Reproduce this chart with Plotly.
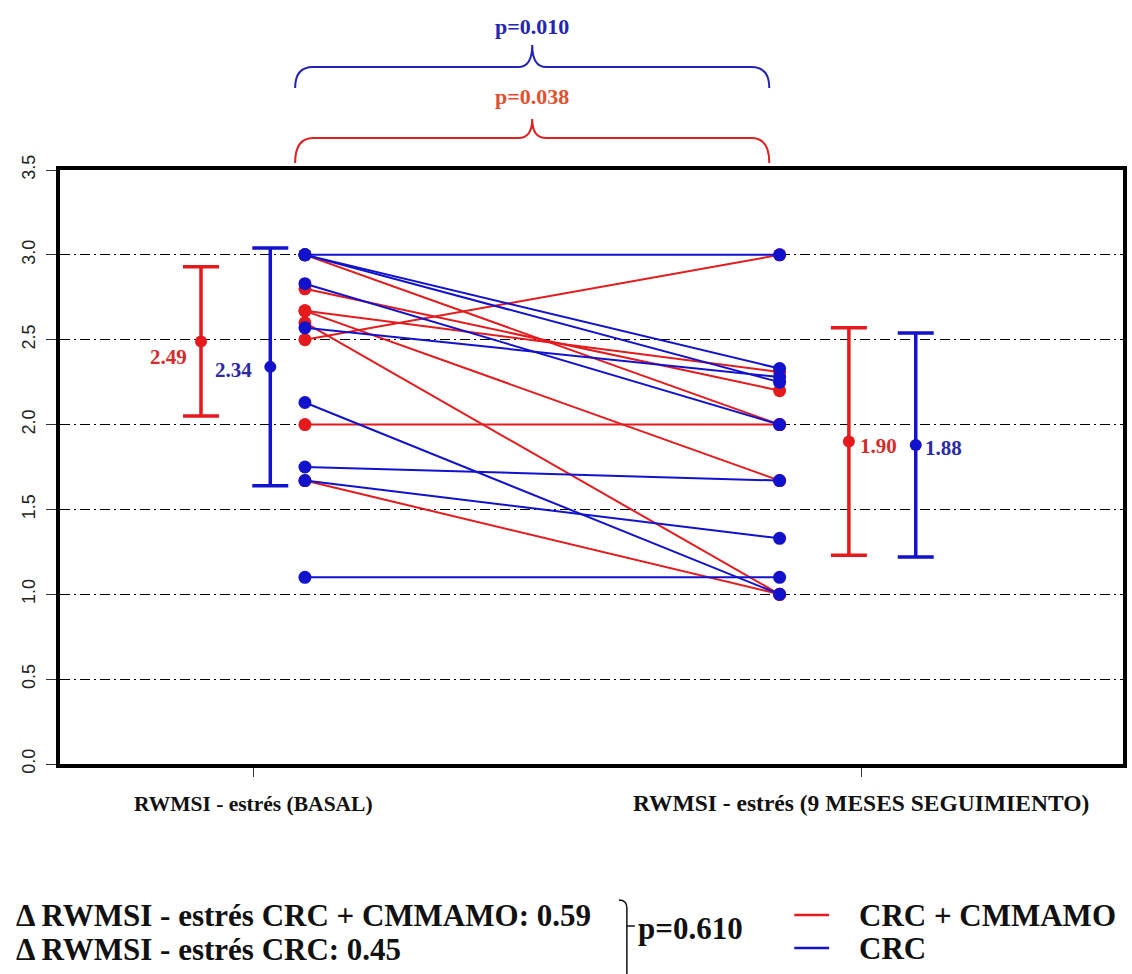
import plotly.graph_objects as go

# ---------------- data ----------------
categories = ["RWMSI - estrés (BASAL)", "RWMSI - estrés (9 MESES SEGUIMIENTO)"]
group_names = ["CRC + CMMAMO", "CRC"]

red_basal = [2.50, 2.00, 3.00, 2.80, 2.67, 2.60, 2.67, 1.67]
red_follow = [3.00, 2.00, 2.00, 2.20, 2.31, 1.00, 1.67, 1.00]
blue_basal = [3.00, 3.00, 3.00, 2.83, 2.57, 2.13, 1.75, 1.67, 1.10]
blue_follow = [3.00, 2.33, 2.25, 2.00, 2.28, 1.00, 1.67, 1.33, 1.10]

red_means = [2.49, 1.90]
red_sd = [0.44, 0.67]
blue_means = [2.34, 1.88]
blue_sd = [0.70, 0.66]

y_ticks = [0.0, 0.5, 1.0, 1.5, 2.0, 2.5, 3.0, 3.5]
p_blue = "p=0.010"
p_red = "p=0.038"
p_delta = "p=0.610"
delta_red = 0.59
delta_blue = 0.45

# ---------------- layout constants ----------------
RED = "#e41a1c"
BLUE = "#1212cc"
RED_TXT = "#d42b2b"
BLUE_TXT = "#2a2aa8"
SERIF = "Liberation Serif"

W, H = 1132, 974
ML, MR, MT, MB = 60, 5, 170, 210
PW = W - ML - MR
PH = H - MT - MB
XMIN, XMAX = 0.682, 2.431
X_B, X_F = 1.085, 1.866          # positions of paired points
XE_RED = [0.914, 1.980]          # error-bar positions
XE_BLUE = [1.028, 2.090]


def px2x(px):
    return XMIN + (px - ML) / PW * (XMAX - XMIN)


def py2p(py):
    return (MT + PH - py) / PH


def px2p(px):
    return (px - ML) / PW


def pairs(a, b):
    xs, ys = [], []
    for u, v in zip(a, b):
        xs += [X_B, X_F, None]
        ys += [u, v, None]
    return xs, ys


fig = go.Figure()

rx, ry = pairs(red_basal, red_follow)
fig.add_trace(go.Scatter(x=rx, y=ry, mode="lines+markers",
                         line=dict(color=RED, width=2),
                         marker=dict(color=RED, size=13),
                         name=group_names[0], showlegend=False))
bx, by = pairs(blue_basal, blue_follow)
fig.add_trace(go.Scatter(x=bx, y=by, mode="lines+markers",
                         line=dict(color=BLUE, width=2),
                         marker=dict(color=BLUE, size=13),
                         name=group_names[1], showlegend=False))

fig.add_trace(go.Scatter(x=XE_RED, y=red_means, mode="markers",
                         marker=dict(color=RED, size=12),
                         error_y=dict(type="data", array=red_sd, color=RED,
                                      thickness=3.5, width=18),
                         showlegend=False))
fig.add_trace(go.Scatter(x=XE_BLUE, y=blue_means, mode="markers",
                         marker=dict(color=BLUE, size=12),
                         error_y=dict(type="data", array=blue_sd, color=BLUE,
                                      thickness=3.5, width=18),
                         showlegend=False))

ann = []
MEAN_SIZE = 21
ann.append(dict(x=XE_RED[0], y=red_means[0], text=f"{red_means[0]:.2f}",
                xanchor="right", yanchor="middle", xshift=-12, yshift=-16,
                showarrow=False, font=dict(family=SERIF, size=MEAN_SIZE, color=RED_TXT, weight="bold")))
ann.append(dict(x=XE_BLUE[0], y=blue_means[0], text=f"{blue_means[0]:.2f}",
                xanchor="right", yanchor="middle", xshift=-16, yshift=-3,
                showarrow=False, font=dict(family=SERIF, size=MEAN_SIZE, color=BLUE_TXT, weight="bold")))
ann.append(dict(x=XE_RED[1], y=red_means[1], text=f"{red_means[1]:.2f}",
                xanchor="left", yanchor="middle", xshift=9, yshift=-4,
                showarrow=False, font=dict(family=SERIF, size=MEAN_SIZE, color=RED_TXT, weight="bold")))
ann.append(dict(x=XE_BLUE[1], y=blue_means[1], text=f"{blue_means[1]:.2f}",
                xanchor="left", yanchor="middle", xshift=7, yshift=-3,
                showarrow=False, font=dict(family=SERIF, size=MEAN_SIZE, color=BLUE_TXT, weight="bold")))

# braces
shapes = []


def brace(xl_px, xr_px, yb, yh, yt, color):
    xm = (xl_px + xr_px) / 2
    r = 18
    c = 14
    pts = [
        f"M {px2x(xl_px)},{py2p(yb)}",
        f"Q {px2x(xl_px)},{py2p(yh)} {px2x(xl_px + r)},{py2p(yh)}",
        f"L {px2x(xm - c)},{py2p(yh)}",
        f"Q {px2x(xm)},{py2p(yh)} {px2x(xm)},{py2p(yt)}",
        f"Q {px2x(xm)},{py2p(yh)} {px2x(xm + c)},{py2p(yh)}",
        f"L {px2x(xr_px - r)},{py2p(yh)}",
        f"Q {px2x(xr_px)},{py2p(yh)} {px2x(xr_px)},{py2p(yb)}",
    ]
    shapes.append(dict(type="path", path=" ".join(pts), xref="x", yref="paper",
                       line=dict(color=color, width=2)))
    return xm


xm_b = brace(296, 772, 88, 67, 45, "#2424b4")
xm_r = brace(296, 772, 163, 138, 119, "#e02020")
ann.append(dict(x=px2x(xm_b), y=py2p(26), xref="x", yref="paper", text=p_blue,
                showarrow=False, xanchor="center", yanchor="middle",
                font=dict(family=SERIF, size=22, color="#2424b4", weight="bold")))
ann.append(dict(x=px2x(xm_r), y=py2p(96), xref="x", yref="paper", text=p_red,
                showarrow=False, xanchor="center", yanchor="middle",
                font=dict(family=SERIF, size=22, color="#e3502e", weight="bold")))

# bottom texts
BOT_FONT = dict(family=SERIF, size=31, color="#111111", weight="bold")
ann.append(dict(x=px2p(14), y=py2p(915), xref="paper", yref="paper",
                text=f"\u0394 RWMSI - estrés {group_names[0]}: {delta_red:.2f}",
                showarrow=False, xanchor="left", yanchor="middle", font=BOT_FONT))
ann.append(dict(x=px2p(14), y=py2p(949), xref="paper", yref="paper",
                text=f"\u0394 RWMSI - estrés {group_names[1]}: {delta_blue:.2f}",
                showarrow=False, xanchor="left", yanchor="middle", font=BOT_FONT))
shapes.append(dict(type="path", xref="paper", yref="paper",
                   path=f"M {px2p(621)},{py2p(900)} Q {px2p(629)},{py2p(900)} {px2p(629)},{py2p(908)} "
                        f"L {px2p(629)},{py2p(985)}",
                   line=dict(color="#111111", width=1.5)))
shapes.append(dict(type="line", xref="paper", yref="paper",
                   x0=px2p(629), x1=px2p(637), y0=py2p(926), y1=py2p(926),
                   line=dict(color="#111111", width=1.5)))
ann.append(dict(x=px2p(638), y=py2p(928), xref="paper", yref="paper", text=p_delta,
                showarrow=False, xanchor="left", yanchor="middle", font=BOT_FONT))

# legend
for i, (col, yy) in enumerate([(RED, 915), (BLUE, 948)]):
    shapes.append(dict(type="line", xref="paper", yref="paper",
                       x0=px2p(797), x1=px2p(832), y0=py2p(yy), y1=py2p(yy),
                       line=dict(color=col, width=2.5)))
    ann.append(dict(x=px2p(860), y=py2p(yy), xref="paper", yref="paper",
                    text=group_names[i], showarrow=False, xanchor="left",
                    yanchor="middle", font=BOT_FONT))

tick_text = [categories[0],
             f'<span style="font-size:23.5px">{categories[1]}</span>']

fig.update_layout(
    width=W, height=H,
    margin=dict(l=ML, r=MR, t=MT, b=MB, pad=0),
    paper_bgcolor="white", plot_bgcolor="white",
    showlegend=False,
    annotations=ann, shapes=shapes,
    xaxis=dict(range=[XMIN, XMAX], tickvals=[1, 2], ticktext=tick_text,
               showgrid=False, zeroline=False,
               showline=True, linecolor="black", linewidth=4, mirror=True,
               ticks="outside", ticklen=9, tickwidth=1, tickcolor="#333",
               ticklabelstandoff=8,
               tickfont=dict(family=SERIF, size=21.5, color="#111111", weight="bold")),
    yaxis=dict(range=[0, 3.5], tickvals=y_ticks,
               ticktext=[f"{v:.1f}" for v in y_ticks],
               showgrid=True, gridcolor="black", gridwidth=1,
               griddash="10px,4px,2px,4px",
               zeroline=False,
               showline=True, linecolor="black", linewidth=4, mirror=True,
               ticks="outside", ticklen=10, tickwidth=1, tickcolor="#333",
               tickangle=-90, ticklabelstandoff=4,
               tickfont=dict(family="Liberation Sans", size=18, color="#222222")),
)

fig.write_html("out.html")
